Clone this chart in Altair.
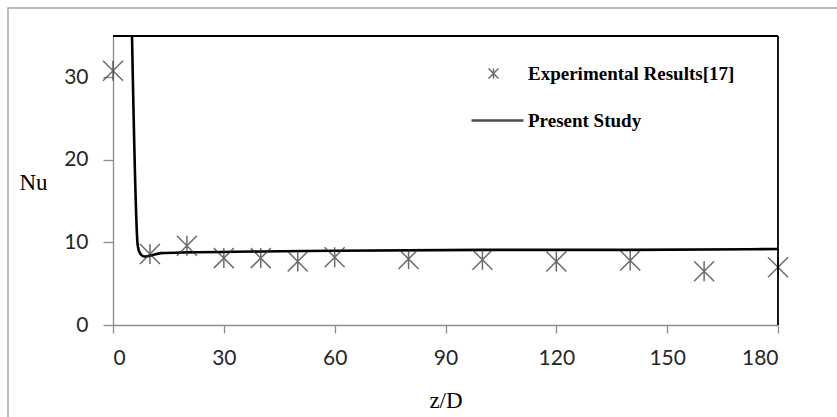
import altair as alt
import pandas as pd

# Experimental Nusselt numbers along the tube
exp_z = [0, 10, 20, 30, 40, 50, 60, 80, 100, 120, 140, 160, 180]
exp_nu = [30.8, 8.6, 9.6, 8.1, 8.1, 7.7, 8.2, 8.0, 7.9, 7.7, 7.8, 6.5, 7.0]

# Computed Nusselt number profile
sim_z = [5.0, 6.7, 7.3, 8.5, 10, 13, 20, 40, 60, 100, 140, 180]
sim_nu = [38.4, 9.6, 8.7, 8.3, 8.4, 8.7, 8.8, 8.9, 9.0, 9.1, 9.1, 9.2]

series_names = ["Experimental Results[17]", "Present Study"]
x_ticks = [0, 30, 60, 90, 120, 150, 180]
y_ticks = [0, 10, 20, 30]

W, H = 665, 289
ASTERISK = "M-1,-1L1,1M-1,1L1,-1M0,-1L0,1"
DASH = "M-4.4,0L6.0,0"

exp_df = pd.DataFrame({"z": exp_z, "nu": exp_nu, "series": series_names[0]})
sim_df = pd.DataFrame({"z": sim_z, "nu": sim_nu})

x_scale = alt.Scale(domain=[0, 180], nice=False, zero=False)
y_scale = alt.Scale(domain=[0, 35], nice=False)

x_axis = alt.Axis(
    values=x_ticks, title="z/D", grid=False, tickSize=8, labelPadding=14,
    titleY=82, titleBaseline="alphabetic",
)
y_axis = alt.Axis(
    values=y_ticks, title="Nu", grid=False, tickSize=10, labelPadding=15,
    titleAngle=0, titleX=-80, titleY=146, titleAlign="center",
    titleBaseline="middle",
)

points = alt.Chart(exp_df).mark_point(size=400, filled=False).encode(
    x=alt.X("z:Q", scale=x_scale, axis=x_axis),
    y=alt.Y("nu:Q", scale=y_scale, axis=y_axis),
    shape=alt.Shape(
        "series:N",
        scale=alt.Scale(domain=series_names, range=[ASTERISK, DASH]),
        legend=alt.Legend(
            title=None, orient="none", legendX=371, legendY=28,
            symbolSize=100, rowPadding=27, labelOffset=25, padding=0,
            labelLimit=0, labelFont="Liberation Serif", labelFontWeight="bold",
            labelFontSize=19, labelColor="#000000", symbolFillColor="transparent",
        ),
    ),
    color=alt.Color(
        "series:N",
        scale=alt.Scale(domain=series_names, range=["#2e2e2e", "#000000"]),
        legend=alt.Legend(title=None),
    ),
    strokeWidth=alt.StrokeWidth(
        "series:N",
        scale=alt.Scale(domain=series_names, range=[1.5, 2.6]),
        legend=alt.Legend(title=None),
    ),
)

line = alt.Chart(sim_df).mark_line(
    color="#000000", strokeWidth=2.6, interpolate="monotone", clip=True
).encode(
    x=alt.X("z:Q", scale=x_scale),
    y=alt.Y("nu:Q", scale=y_scale),
)

# Plot-area frame on the top and right sides
frame_top = alt.Chart().mark_rule(color="#000000", strokeWidth=1.8).encode(
    x=alt.value(0), x2=alt.value(W), y=alt.value(0)
)
frame_right = alt.Chart().mark_rule(color="#000000", strokeWidth=1.8).encode(
    x=alt.value(W), y=alt.value(0), y2=alt.value(H)
)
# Chart-area border
outer = alt.Chart().mark_rect(
    fill="transparent", stroke="#a6a6a6", strokeWidth=1.5
).encode(
    x=alt.value(-105), x2=alt.value(W + 80), y=alt.value(-28), y2=alt.value(H + 120)
)

chart = (
    alt.layer(outer, line, points, frame_top, frame_right)
    .properties(
        width=W, height=H,
        autosize=alt.AutoSizeParams(type="none"),
        padding={"left": 113, "top": 36, "right": 59, "bottom": 92},
        background="white",
    )
    .configure_view(stroke=None)
    .configure_axis(
        domainColor="#8c8c8c", domainWidth=1.3, tickColor="#8c8c8c", tickWidth=1.3,
        labelFont="Lato", labelFontSize=21, labelColor="#262626",
        titleFont="Liberation Serif", titleFontSize=23, titleFontWeight="normal",
        titleColor="#000000",
    )
)

chart.save("out.html", embed_options={"renderer": "svg", "actions": False})
